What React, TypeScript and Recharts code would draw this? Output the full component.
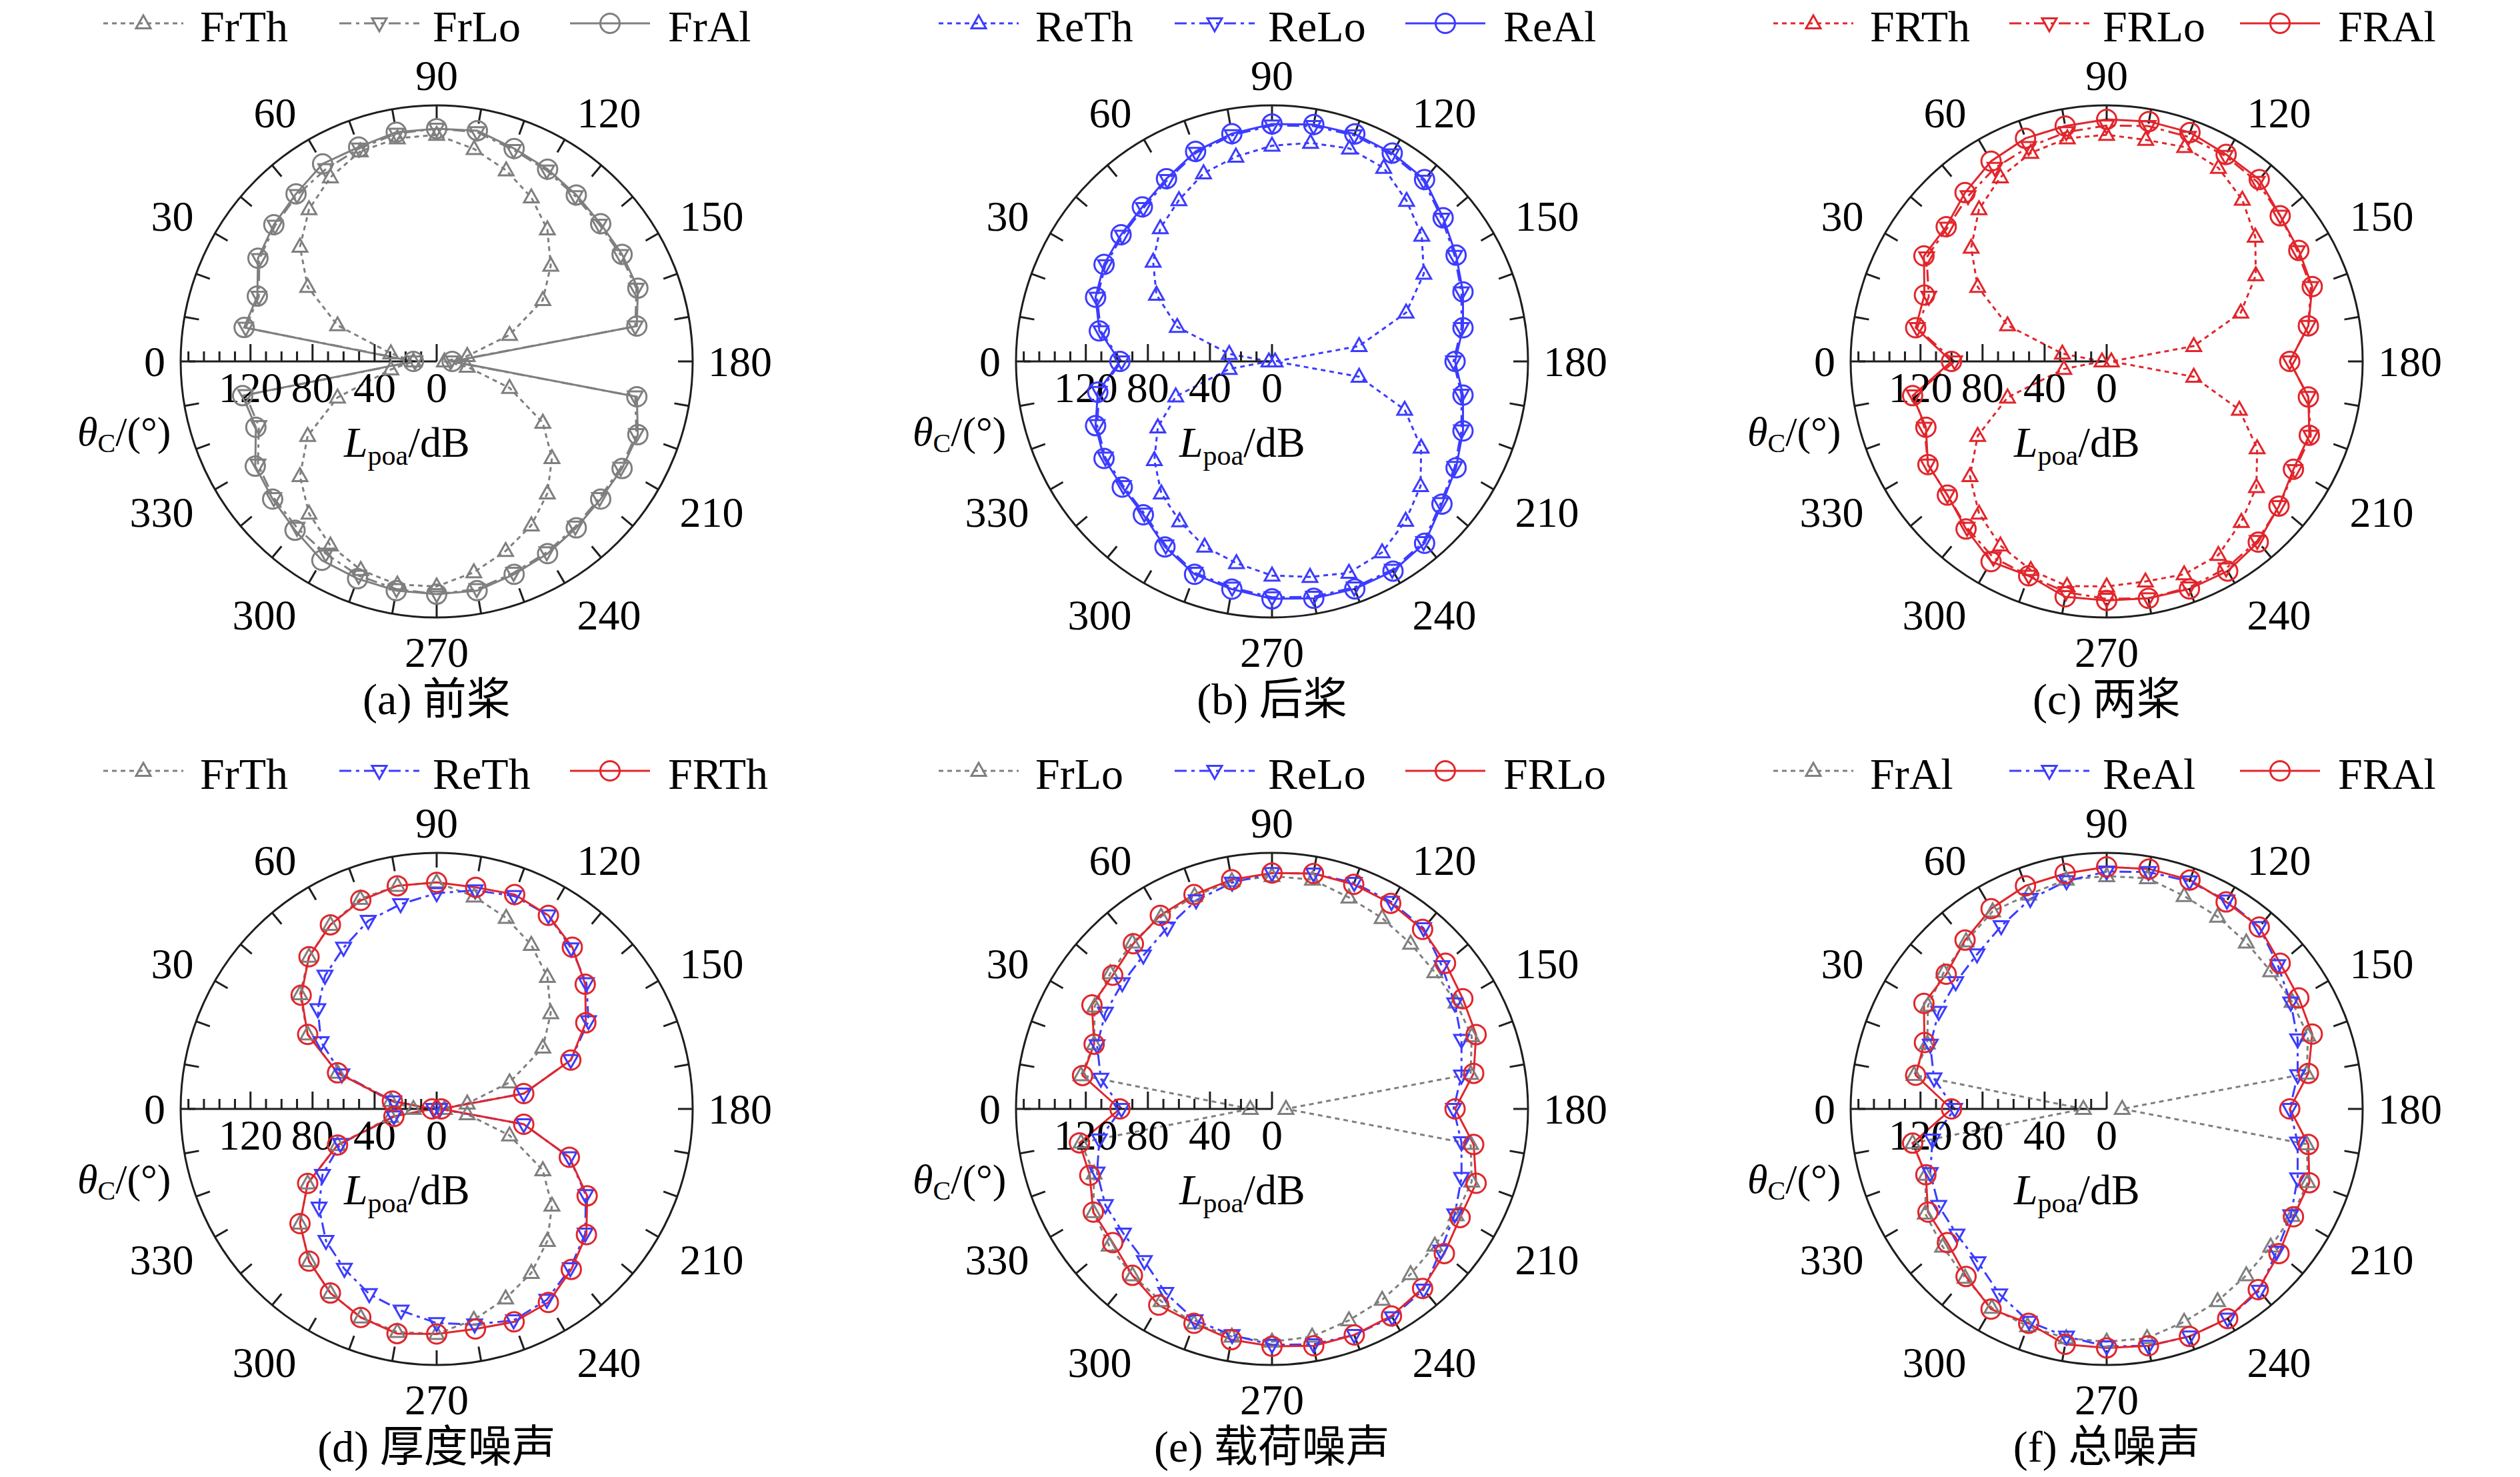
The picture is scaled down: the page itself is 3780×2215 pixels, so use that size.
import { PolarAngleAxis, PolarRadiusAxis, Radar, RadarChart } from "recharts";

const FONT = "'Times New Roman', 'Liberation Serif', 'Noto Sans CJK SC', serif";

// polar angle categories (deg), radial ticks (dB)
const angleCats = [
  0, 10, 20, 30, 40, 50, 60, 70, 80, 90, 100, 110, 120, 130, 140, 150, 160, 170,
  180, 190, 200, 210, 220, 230, 240, 250, 260, 270, 280, 290, 300, 310, 320, 330, 340, 350,
];
const radialTicks = [0, 10, 20, 30, 40, 50, 60, 70, 80, 90, 100, 110, 120, 130, 140, 150, 160];
const radialLabels = [0, 40, 80, 120];
const radialMax = 165;

// front rotor
const frTh = [15, 30, 68, 96, 115, 128, 137, 144, 146, 146, 139, 131, 122, 111, 96, 79, 50, 20, 5, 20, 50, 79, 97, 111, 122, 130, 138, 145, 146, 143, 137, 128, 115, 96, 68, 30];
const frLo = [14, 125, 122, 132, 136, 140, 143, 146, 149, 150, 150, 145, 142, 139, 137, 137, 137, 130, 9, 130, 137, 137, 137, 139, 142, 145, 149, 150, 149, 147, 143, 140, 137, 133, 122, 125];
const frAl = [15, 126, 123, 133, 137, 141, 147, 147, 150, 150, 151, 146, 143, 140, 138, 138, 138, 131, 10, 131, 138, 138, 138, 140, 143, 146, 150, 150, 150, 149, 148, 142, 138, 135, 124, 127];

// rear rotor
const reTh = [2, 28, 65, 86, 100, 112, 120, 129, 134, 139, 143, 146, 144, 135, 126, 113, 92, 57, 2, 57, 91, 111, 125, 134, 142, 145, 141, 138, 132, 127, 119, 111, 99, 85, 66, 28];
const reLo = [97, 112, 120, 124, 126, 129, 135, 143, 148, 152, 154, 155, 154, 152, 143, 136, 130, 124, 117, 124, 130, 136, 142, 152, 155, 155, 154, 152, 148, 145, 137, 128, 125, 124, 120, 113];
const reAl = [98, 113, 121, 125, 127, 130, 136, 144, 149, 153, 155, 156, 155, 153, 144, 137, 131, 125, 118, 125, 131, 137, 143, 153, 156, 156, 155, 153, 149, 146, 138, 129, 126, 125, 121, 114];

// both rotors
const bothTh = [3, 29, 68, 96, 114, 128, 137, 143, 146, 146, 145, 147, 144, 136, 125, 111, 92, 57, 3, 57, 91, 112, 126, 135, 144, 146, 144, 145, 147, 143, 137, 128, 115, 96, 68, 28];
const bothLo = [98, 124, 122, 134, 134, 139, 144, 147, 150, 152, 154, 154, 153, 151, 146, 142, 140, 132, 118, 132, 140, 140, 145, 151, 154, 155, 155, 153, 151, 147, 146, 140, 134, 133, 125, 126];
const bothAl = [100, 125, 125, 136, 135, 142, 149, 153, 154, 156, 157, 157, 154, 153, 146, 143, 141, 132, 118, 132, 139, 139, 145, 152, 156, 156, 155, 154, 154, 147, 149, 141, 134, 133, 124, 127];

const GRAY = "#7f7f7f";
const BLUE = "#3c3cff";
const RED = "#e1262c";
const AXIS = "#1e1e1e";
const FS = 64;
const LEGEND_FS = 66;

const W = 1100;
const H = 1000;
const CX = W / 2;
const CY = H / 2;
const R = 384;

// line/marker style by position in a panel
const STYLES = [
  { dash: "7 6", shape: "up" },
  { dash: "18 7 5 7", shape: "down" },
  { dash: undefined, shape: "circle" },
] as const;

type Series = { name: string; values: number[]; color: string };
type Panel = { caption: string; x: number; y: number; series: Series[] };

const panels: Panel[] = [
  {
    caption: "(a) 前桨",
    x: 655,
    y: 542,
    series: [
      { name: "FrTh", values: frTh, color: GRAY },
      { name: "FrLo", values: frLo, color: GRAY },
      { name: "FrAl", values: frAl, color: GRAY },
    ],
  },
  {
    caption: "(b) 后桨",
    x: 1908,
    y: 542,
    series: [
      { name: "ReTh", values: reTh, color: BLUE },
      { name: "ReLo", values: reLo, color: BLUE },
      { name: "ReAl", values: reAl, color: BLUE },
    ],
  },
  {
    caption: "(c) 两桨",
    x: 3160,
    y: 542,
    series: [
      { name: "FRTh", values: bothTh, color: RED },
      { name: "FRLo", values: bothLo, color: RED },
      { name: "FRAl", values: bothAl, color: RED },
    ],
  },
  {
    caption: "(d) 厚度噪声",
    x: 655,
    y: 1663,
    series: [
      { name: "FrTh", values: frTh, color: GRAY },
      { name: "ReTh", values: reTh, color: BLUE },
      { name: "FRTh", values: bothTh, color: RED },
    ],
  },
  {
    caption: "(e) 载荷噪声",
    x: 1908,
    y: 1663,
    series: [
      { name: "FrLo", values: frLo, color: GRAY },
      { name: "ReLo", values: reLo, color: BLUE },
      { name: "FRLo", values: bothLo, color: RED },
    ],
  },
  {
    caption: "(f) 总噪声",
    x: 3160,
    y: 1663,
    series: [
      { name: "FrAl", values: frAl, color: GRAY },
      { name: "ReAl", values: reAl, color: BLUE },
      { name: "FRAl", values: bothAl, color: RED },
    ],
  },
];

function Marker({ shape, color, x, y }: { shape: string; color: string; x: number; y: number }) {
  if (shape === "circle") {
    return <circle cx={x} cy={y} r={14.5} fill="none" stroke={color} strokeWidth={3} />;
  }
  const s = 12;
  const pts =
    shape === "up"
      ? [[x, y - s], [x - 11, y + 7.5], [x + 11, y + 7.5]]
      : [[x, y + s], [x - 11, y - 7.5], [x + 11, y - 7.5]];
  return (
    <polygon
      points={pts.map((p) => p.join(",")).join(" ")}
      fill="none"
      stroke={color}
      strokeWidth={3}
    />
  );
}

function renderAngleTick(props: any) {
  const { payload } = props;
  const rad = (Number(payload.coordinate) * Math.PI) / 180;
  const ux = Math.cos(rad);
  const uy = -Math.sin(rad);
  const value = Number(payload.value);
  let label = null;
  if (value % 30 === 0) {
    const text = String(value);
    const halfW = (text.length * FS * 0.5) / 2;
    const horiz = Math.abs(uy) < 0.01;
    const vert = Math.abs(ux) < 0.01;
    const lx = vert ? 0 : ux * (horiz ? 407 : 421) + Math.sign(ux) * halfW;
    const ly = horiz ? 0 : uy * 421 + (uy < 0 ? -8 : 15);
    label = (
      <text
        x={CX + lx}
        y={CY + ly + 22}
        textAnchor="middle"
        fontFamily={FONT}
        fontSize={FS}
        fill="#000"
      >
        {text}
      </text>
    );
  }
  return (
    <g>
      <line
        x1={CX + ux * R}
        y1={CY + uy * R}
        x2={CX + ux * (R - 22)}
        y2={CY + uy * (R - 22)}
        stroke={AXIS}
        strokeWidth={3}
      />
      {label}
    </g>
  );
}

function renderRadiusTick(props: any) {
  const { x, y, payload } = props;
  const v = Number(payload.value);
  const major = radialLabels.includes(v);
  return (
    <g>
      <line x1={x} y1={y} x2={x} y2={y - (major ? 26 : 15)} stroke={AXIS} strokeWidth={3} />
      {major ? (
        <text x={x} y={y + 61} textAnchor="middle" fontFamily={FONT} fontSize={FS} fill="#000">
          {v}
        </text>
      ) : null}
    </g>
  );
}

function PolarPanel({ panel }: { panel: Panel }) {
  const rows = angleCats.map((a, i) => {
    const row: Record<string, string | number> = { angle: String(a) };
    panel.series.forEach((s, k) => {
      row[`s${k}`] = s.values[i];
    });
    return row;
  });

  return (
    <div style={{ position: "absolute", left: panel.x - CX, top: panel.y - CY, width: W, height: H }}>
      <RadarChart
        width={W}
        height={H}
        data={rows}
        cx={CX}
        cy={CY}
        outerRadius={R}
        startAngle={180}
        endAngle={-180}
        margin={{ top: 0, right: 0, bottom: 0, left: 0 }}
      >
        <PolarAngleAxis
          dataKey="angle"
          axisLineType="circle"
          axisLine={{ stroke: AXIS, strokeWidth: 3 }}
          tickLine={false}
          tick={renderAngleTick}
        />
        <PolarRadiusAxis
          angle={180}
          type="number"
          domain={[0, radialMax]}
          ticks={radialTicks}
          axisLine={{ stroke: AXIS, strokeWidth: 3 }}
          tickLine={false}
          tick={renderRadiusTick}
        />
        {panel.series.map((s, k) => (
          <Radar
            key={s.name}
            name={s.name}
            dataKey={`s${k}`}
            stroke={s.color}
            strokeWidth={3}
            strokeDasharray={STYLES[k].dash}
            fill="none"
            fillOpacity={0}
            dot={(p: any) => <Marker key={`${s.name}-${p.index}`} shape={STYLES[k].shape} color={s.color} x={p.cx} y={p.cy} />}
            isAnimationActive={false}
          />
        ))}
      </RadarChart>
    </div>
  );
}

const legendSample = [-500, -146, 200];
const legendText = [-355, -6, 347];

function PanelText({ panel }: { panel: Panel }) {
  const ox = 640;
  const oy = 560;
  return (
    <svg
      width={1280}
      height={1140}
      style={{ position: "absolute", left: panel.x - ox, top: panel.y - oy, overflow: "visible", pointerEvents: "none" }}
      fontFamily={FONT}
    >
      {panel.series.map((s, k) => {
        const x0 = ox + legendSample[k];
        const ly = oy - 507;
        return (
          <g key={s.name}>
            <line x1={x0} y1={ly} x2={x0 + 120} y2={ly} stroke={s.color} strokeWidth={3} strokeDasharray={STYLES[k].dash} />
            <Marker shape={STYLES[k].shape} color={s.color} x={x0 + 60} y={ly} />
            <text x={ox + legendText[k]} y={oy - 480} fontSize={LEGEND_FS} fill="#000">
              {s.name}
            </text>
          </g>
        );
      })}
      <text x={ox - 539} y={oy + 126} fontSize={62} fill="#000">
        <tspan fontStyle="italic">θ</tspan>
        <tspan fontSize={40} dy={10}>C</tspan>
        <tspan dy={-10}>/(°)</tspan>
      </text>
      <text x={ox - 139} y={oy + 143} fontSize={64} fill="#000">
        <tspan fontStyle="italic">L</tspan>
        <tspan fontSize={42} dy={12}>poa</tspan>
        <tspan dy={-12}>/dB</tspan>
      </text>
      <text x={ox} y={oy + 529} fontSize={LEGEND_FS} textAnchor="middle" fill="#000">
        {panel.caption}
      </text>
    </svg>
  );
}

export default function App() {
  return (
    <div
      style={{ position: "absolute", left: 0, top: 0, width: 3780, height: 2215, background: "#fff", overflow: "hidden" }}
    >
      {panels.map((p) => (
        <PolarPanel key={p.caption} panel={p} />
      ))}
      {panels.map((p) => (
        <PanelText key={`t-${p.caption}`} panel={p} />
      ))}
    </div>
  );
}
